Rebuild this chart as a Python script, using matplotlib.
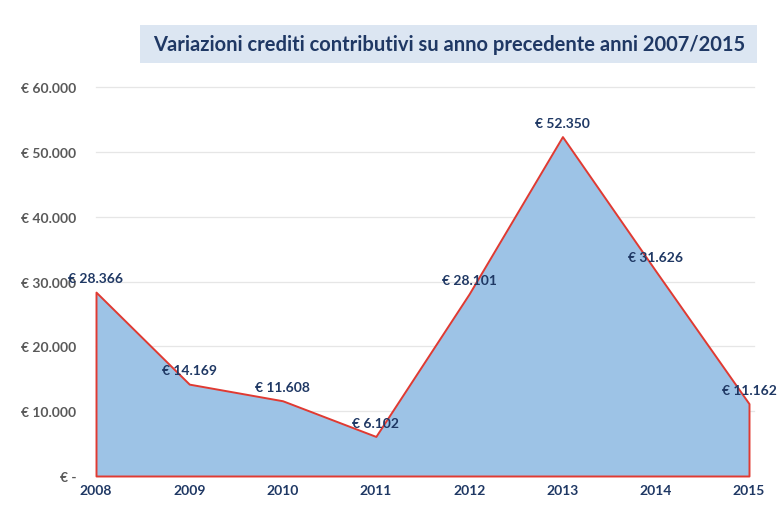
import matplotlib
matplotlib.use("Agg")
import matplotlib.pyplot as plt
from matplotlib.patches import Rectangle

years = [2008, 2009, 2010, 2011, 2012, 2013, 2014, 2015]
variazioni = [28366, 14169, 11608, 6102, 28101, 52350, 31626, 11162]
y_ticks = [0, 10000, 20000, 30000, 40000, 50000, 60000]
titolo = "Variazioni crediti contributivi su anno precedente anni 2007/2015"

navy = "#1f3864"
grigio = "#595959"


def euro(v):
    if v == 0:
        return "€ -"
    return "€ " + f"{v:,.0f}".replace(",", ".")


plt.rcParams["font.family"] = ["Lato", "DejaVu Sans"]

fig = plt.figure(figsize=(7.78, 5.06), dpi=100)
ax = fig.add_axes([96 / 778, 1 - 477 / 506, (749 - 96) / 778, (477 - 88) / 506])

# area con bordo rosso
ax.fill_between(years, variazioni, 0, facecolor="#9dc3e6", edgecolor="#e03a32",
                linewidth=1.4, zorder=2, clip_on=False)

for x, v in zip(years, variazioni):
    ax.annotate(euro(v), (x, v), xytext=(0, 10), textcoords="offset points",
                ha="center", va="center", fontsize=10, fontweight="bold",
                color=navy, zorder=4)

ax.set_xlim(2008, 2015)
ax.set_ylim(0, 60000)
ax.set_xticks(years)
ax.set_xticklabels([str(y) for y in years], fontsize=10, fontweight="bold", color=navy)
ax.set_yticks(y_ticks)
ax.set_yticklabels([euro(v) for v in y_ticks], fontsize=10, fontweight="bold", color=grigio)
ax.tick_params(length=0, pad=6)
ax.tick_params(axis="y", pad=14)

for v in y_ticks[1:]:
    ax.plot([2008, 2015.05], [v, v], color="#e6e6e6", lw=0.9, zorder=1, clip_on=False)

for s in ax.spines.values():
    s.set_visible(False)

# titolo in riquadro
fig.patches.append(Rectangle((140 / 778, 1 - 64 / 506), (757 - 140) / 778, 38 / 506,
                             transform=fig.transFigure, facecolor="#dce6f2",
                             edgecolor="none", zorder=0))
fig.text(449 / 778, 1 - 45 / 506, titolo, ha="center", va="center",
         fontsize=14.5, fontweight="bold", color=navy)

fig.savefig("out.png", dpi=100)
